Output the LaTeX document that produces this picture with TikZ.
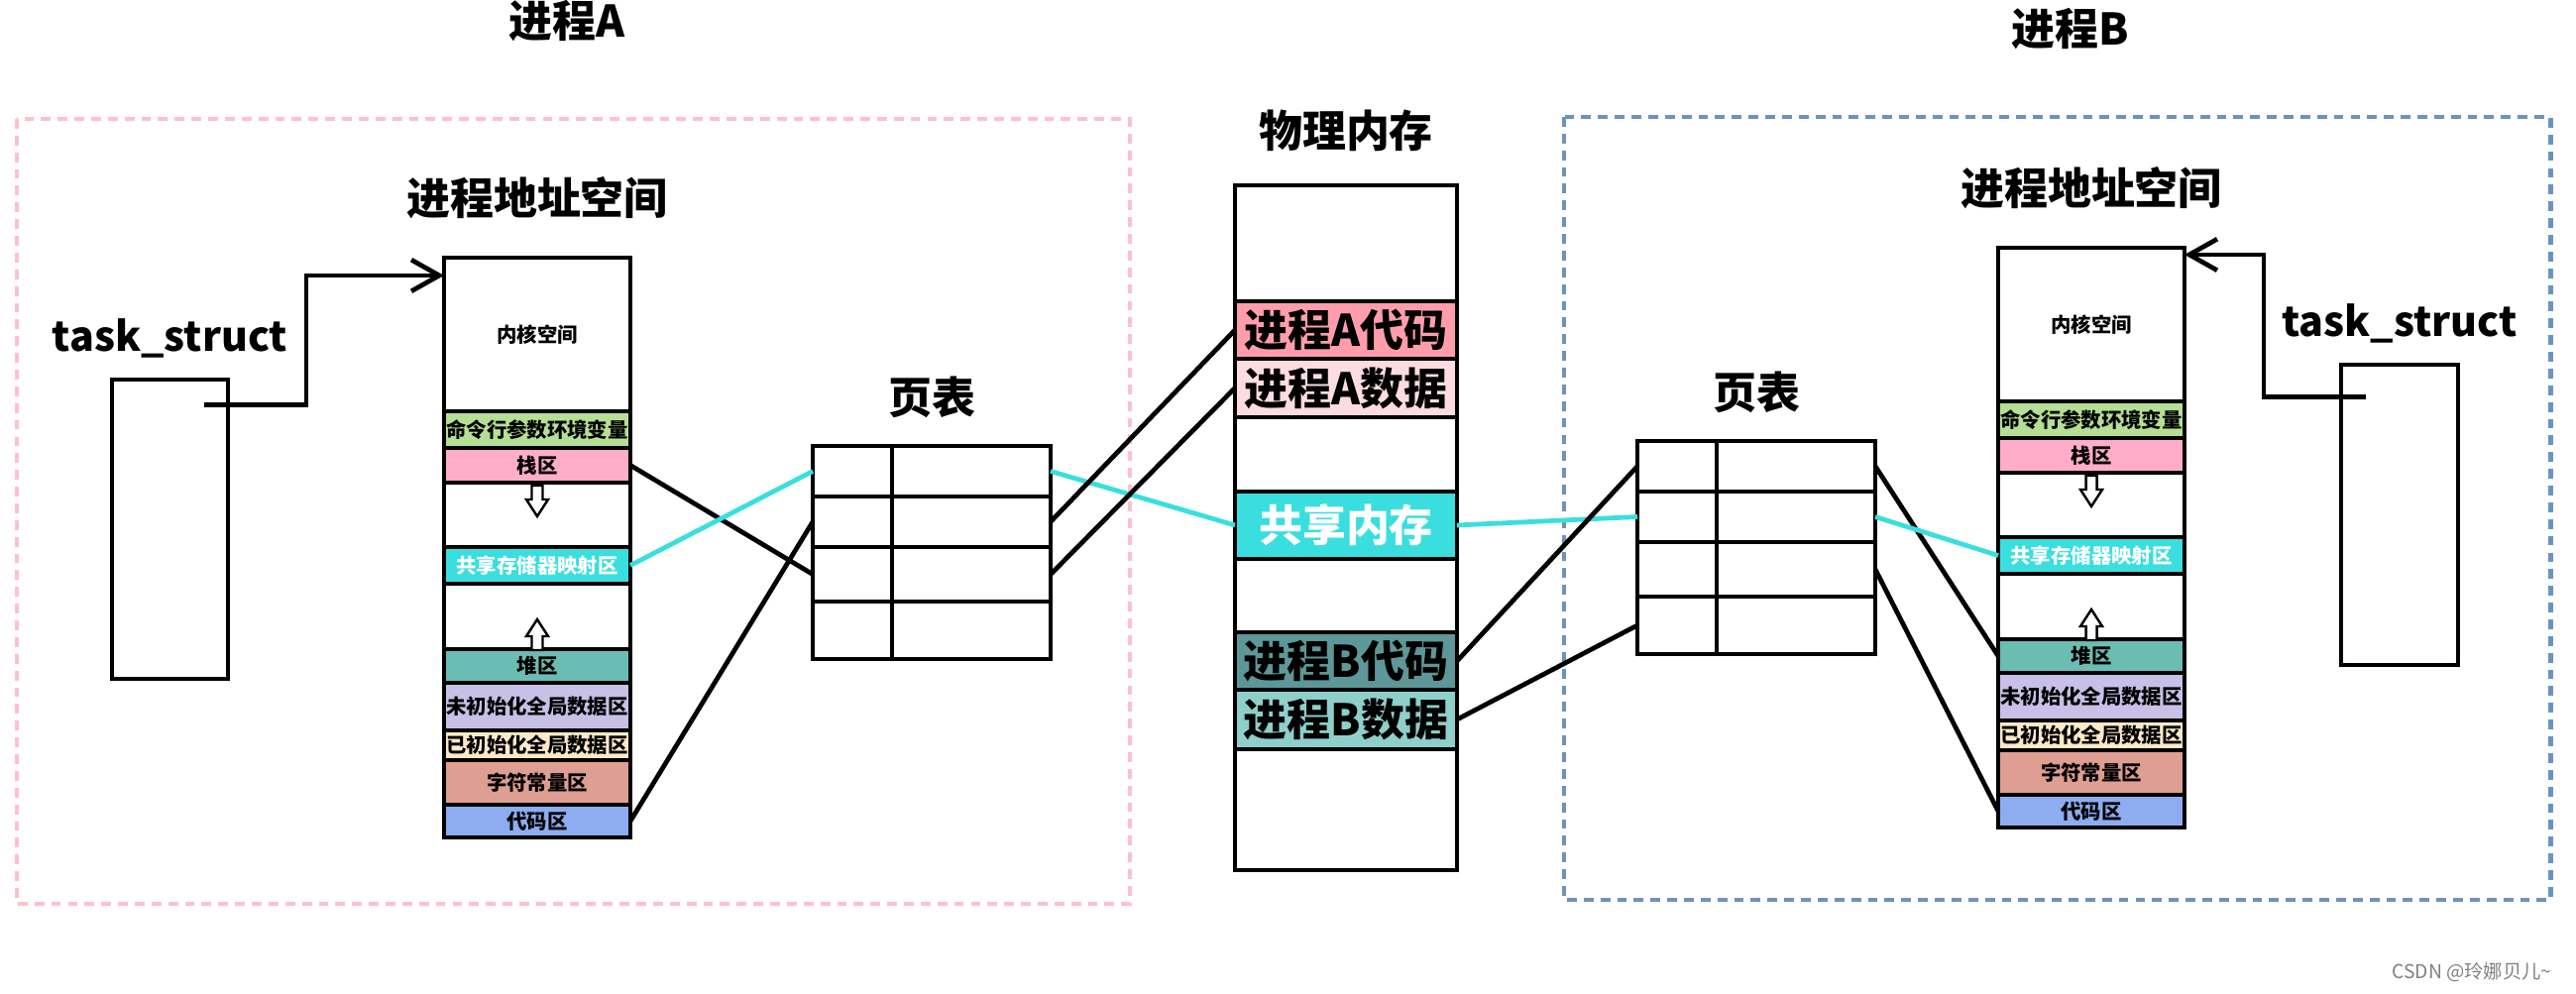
\documentclass[tikz,border=0pt]{standalone}
\usepackage{fontspec}
\setmainfont{Noto Sans CJK SC}
\usetikzlibrary{arrows.meta, positioning}

\definecolor{cmdgreen}{RGB}{181,223,149}
\definecolor{stackpink}{RGB}{255,173,200}
\definecolor{shmcyan}{RGB}{58,222,222}
\definecolor{heapteal}{RGB}{107,188,179}
\definecolor{bsslav}{RGB}{200,192,230}
\definecolor{datacream}{RGB}{251,233,201}
\definecolor{constsalmon}{RGB}{222,158,146}
\definecolor{codeblue}{RGB}{141,173,240}
\definecolor{pmApink}{RGB}{255,158,170}
\definecolor{pmAlight}{RGB}{252,220,224}
\definecolor{pmBdark}{RGB}{94,151,151}
\definecolor{pmBlight}{RGB}{142,207,202}
\definecolor{dashpink}{RGB}{255,192,203}
\definecolor{dashblue}{RGB}{108,146,192}

\tikzset{
    blockarrow/.pic={
        \draw[line width=0.7pt, fill=white] (-0.055,0.155) -- (0.055,0.155) -- (0.055,0.015)
            -- (0.11,0.015) -- (0,-0.155) -- (-0.11,0.015) -- (-0.055,0.015) -- cycle;
    }
}

\begin{document}
\begin{tikzpicture}[
    node distance=0pt,
    seg/.style={draw, line width=1.3pt, minimum width=1.88cm, inner sep=0pt, outer sep=0pt,
        font=\fontsize{5.8}{7}\selectfont\bfseries},
    pmseg/.style={draw, line width=1.3pt, minimum width=2.24cm, inner sep=0pt, outer sep=0pt,
        font=\fontsize{12.5}{15}\selectfont\bfseries},
    ptrow/.style={draw, line width=1.3pt, minimum width=2.40cm, outer sep=0pt},
    taskbox/.style={draw, line width=1.3pt, minimum width=1.17cm, minimum height=3.02cm},
    headtext/.style={font=\fontsize{12.5}{15}\selectfont\bfseries, inner sep=0pt,
        text height=0.8em, text depth=0.1em},
    link/.style={line width=1.35pt},
    shmlink/.style={line width=1.35pt, shmcyan},
    arrow/.style={-{Straight Barb[length=8pt, width=9pt]}, line width=1.35pt},
    dashbox/.style={line width=1.4pt, dash pattern=on 2.8pt off 2pt}
]
\useasboundingbox (0,0) rectangle (25.99,-10.03);

% 两个进程的虚线框
\draw[dashbox, dashpink] (0.17,-1.20) rectangle (11.40,-9.12);
\draw[dashbox, dashblue] (15.78,-1.18) rectangle (25.73,-9.08);

\node[headtext] (procA) at (5.72,-0.25) {进程A};
\node[headtext] (procB) at (20.89,-0.33) {进程B};

% 进程地址空间
\foreach \p/\x/\y in {A/5.42/-2.60, B/21.10/-2.50} {
    \node[seg, minimum height=1.55cm, anchor=north] (kern\p) at (\x,\y) {内核空间};
    \node[seg, fill=cmdgreen, minimum height=0.37cm, below=of kern\p] (cmd\p) {命令行参数环境变量};
    \node[seg, fill=stackpink, minimum height=0.35cm, below=of cmd\p] (stack\p) {栈区};
    \node[seg, minimum height=0.65cm, below=of stack\p] (gapup\p) {};
    \node[seg, fill=shmcyan, text=white, minimum height=0.37cm, below=of gapup\p] (share\p) {共享存储器映射区};
    \node[seg, minimum height=0.66cm, below=of share\p] (gapdn\p) {};
    \node[seg, fill=heapteal, minimum height=0.34cm, below=of gapdn\p] (heap\p) {堆区};
    \node[seg, fill=bsslav, minimum height=0.48cm, below=of heap\p] (bss\p) {未初始化全局数据区};
    \node[seg, fill=datacream, minimum height=0.30cm, below=of bss\p] (data\p) {已初始化全局数据区};
    \node[seg, fill=constsalmon, minimum height=0.45cm, below=of data\p] (const\p) {字符常量区};
    \node[seg, fill=codeblue, minimum height=0.33cm, below=of const\p] (code\p) {代码区};
    \pic at ([yshift=-0.185cm]stack\p.south) {blockarrow};
    \pic[rotate=180] at ([yshift=0.145cm]heap\p.north) {blockarrow};
    \node[headtext, above=0.39cm of kern\p] (astitle\p) {进程地址空间};
}

% 页表
\foreach \p/\x/\y in {A/9.40/-4.50, B/17.72/-4.45} {
    \node[ptrow, minimum height=0.51cm, anchor=north] (pt\p1) at (\x,\y) {};
    \node[ptrow, minimum height=0.51cm, below=of pt\p1] (pt\p2) {};
    \node[ptrow, minimum height=0.55cm, below=of pt\p2] (pt\p3) {};
    \node[ptrow, minimum height=0.58cm, below=of pt\p3] (pt\p4) {};
    \draw[link] ([xshift=0.8cm]pt\p1.north west) -- ([xshift=0.8cm]pt\p4.south west);
    \node[headtext, above=0.28cm of pt\p1] (pttitle\p) {页表};
}

% 物理内存
\node[pmseg, minimum height=1.17cm, anchor=north] (pmtop) at (13.58,-1.87) {};
\node[pmseg, fill=pmApink, minimum height=0.58cm, below=of pmtop] (pmAcode) {进程A代码};
\node[pmseg, fill=pmAlight, minimum height=0.59cm, below=of pmAcode] (pmAdata) {进程A数据};
\node[pmseg, minimum height=0.75cm, below=of pmAdata] (pmgapup) {};
\node[pmseg, fill=shmcyan, text=white, minimum height=0.68cm, below=of pmgapup] (shm) {共享内存};
\node[pmseg, minimum height=0.74cm, below=of shm] (pmgapdn) {};
\node[pmseg, fill=pmBdark, minimum height=0.58cm, below=of pmgapdn] (pmBcode) {进程B代码};
\node[pmseg, fill=pmBlight, minimum height=0.60cm, below=of pmBcode] (pmBdata) {进程B数据};
\node[pmseg, minimum height=1.22cm, below=of pmBdata] (pmbot) {};
\node[headtext, above=0.34cm of pmtop] (pmtitle) {物理内存};

% task_struct
\node[taskbox] (taskA) at (1.715,-5.34) {};
\node[taskbox, minimum width=1.18cm, minimum height=3.03cm] (taskB) at (24.21,-5.195) {};
\node[headtext, font=\fontsize{11.7}{14}\selectfont\bfseries, above=0.22cm of taskA] (tsA) {task\_struct};
\node[headtext, font=\fontsize{11.7}{14}\selectfont\bfseries, above=0.22cm of taskB] (tsB) {task\_struct};

\draw[arrow] ([shift={(0.345,-0.28)}]taskA.north) -- ++(1.03,0) |- ([yshift=-0.18cm]kernA.north west);
\draw[arrow] ([shift={(-0.34,-0.35)}]taskB.north) -- ++(-1.03,0) |- ([yshift=-0.07cm]kernB.north east);

% 映射关系
\draw[link] (stackA.east) -- (ptA3.west);
\draw[shmlink] (shareA.east) -- (ptA1.west);
\draw[link] (codeA.east) -- (ptA2.west);
\draw[shmlink] (ptA1.east) -- (shm.west);
\draw[link] (ptA2.east) -- (pmAcode.west);
\draw[link] (ptA3.east) -- (pmAdata.west);
\draw[shmlink] (shm.east) -- (ptB2.west);
\draw[link] (pmBcode.east) -- (ptB1.west);
\draw[link] (pmBdata.east) -- (ptB4.west);
\draw[link] (ptB1.east) -- (heapB.west);
\draw[shmlink] (ptB2.east) -- (shareB.west);
\draw[link] (ptB3.east) -- (codeB.west);

\node[anchor=east, text=gray, font=\fontsize{5.5}{6}\selectfont] (mark) at (25.87,-9.81) {CSDN @玲娜贝儿\textasciitilde};

\end{tikzpicture}
\end{document}
